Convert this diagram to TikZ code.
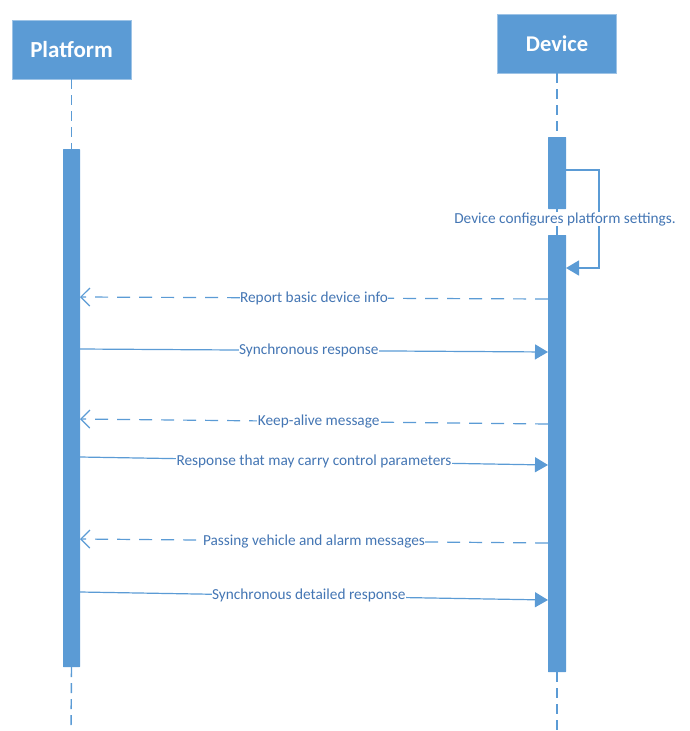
\documentclass[tikz,border=0pt]{standalone}
\usepackage{fontspec}
\setmainfont{Carlito}
\usetikzlibrary{arrows.meta}
\definecolor{boxblue}{HTML}{5B9BD5}
\definecolor{lineblue}{HTML}{5B9BD5}
\definecolor{textblue}{HTML}{4476B4}
\tikzset{
  actor/.style={fill=boxblue, draw=boxblue!60!white, line width=0.8pt, text=white, font=\fontsize{23}{26}\selectfont\bfseries, minimum width=119pt, minimum height=59pt, inner sep=0pt},
  bar/.style={fill=boxblue, draw=none, rounded corners=0.5pt},
  life/.style={lineblue, line width=1.4pt, dash pattern=on 10pt off 6pt},
  call/.style={lineblue, line width=1.2pt, -{Triangle[length=13pt,width=15pt]}},
  ret/.style={lineblue, line width=1.2pt, dash pattern=on 13pt off 9pt, -{Straight Barb[length=9pt,width=18pt,line width=1.2pt]}},
  msg/.style={fill=white, text=textblue, inner sep=0.5pt, font=\fontsize{15.3}{17}\selectfont},
}
\begin{document}
\begin{tikzpicture}[x=1pt,y=-1pt]
\useasboundingbox (0,0) rectangle (689,731);
% actors
\node[actor] (plat) at (71.5,49.5) {Platform};
\node[actor, font=\fontsize{22.5}{26}\selectfont\bfseries] (dev) at (557,43.5) {Device};
% lifeline ends
\coordinate (pbot) at (71,731);
\coordinate (dbot) at (557,731);
% activation bars
\node[bar, minimum width=17pt, minimum height=518pt, inner sep=0pt] (pa) at (71.5,408) {};
\node[bar, minimum width=18pt, minimum height=72pt, inner sep=0pt] (da1) at (557,173) {};
\node[bar, minimum width=18pt, minimum height=437pt, inner sep=0pt] (da2) at (557,453.5) {};
% lifelines
\draw[life] (plat.south) -- (pa.north);
\draw[life] (pa.south) -- (pbot);
\draw[life] (dev.south) -- (da1.north);
\draw[life] (da1.south) -- (da2.north);
\draw[life] (da2.south) -- (dbot);
% self message
\coordinate (s1) at (566,170);
\coordinate (s2) at (599,170);
\coordinate (s3) at (599,268);
\coordinate (s4) at (566,268);
\draw[call, line width=1.5pt] (s1) -- (s2) -- (s3) -- (s4);
\node[msg] (selfl) at (565,219) {Device configures platform settings.};
% messages
\coordinate (m1a) at (548,299); \coordinate (m1b) at (80,297);
\draw[ret] (m1a) -- node[msg] {Report basic device info} (m1b);
\coordinate (m2a) at (80,349); \coordinate (m2b) at (548,352);
\draw[call] (m2a) -- node[msg, pos=0.489] {Synchronous response} (m2b);
\coordinate (m3a) at (548,424); \coordinate (m3b) at (80,419);
\draw[ret] (m3a) -- node[msg, pos=0.49] {Keep-alive message} (m3b);
\coordinate (m4a) at (80,457); \coordinate (m4b) at (548,465);
\draw[call] (m4a) -- node[msg] {Response that may carry control parameters} (m4b);
\coordinate (m5a) at (548,543); \coordinate (m5b) at (80,539);
\draw[ret] (m5a) -- node[msg] {Passing vehicle and alarm messages} (m5b);
\coordinate (m6a) at (80,592); \coordinate (m6b) at (548,600);
\draw[call] (m6a) -- node[msg, pos=0.489] {Synchronous detailed response} (m6b);
\end{tikzpicture}
\end{document}
